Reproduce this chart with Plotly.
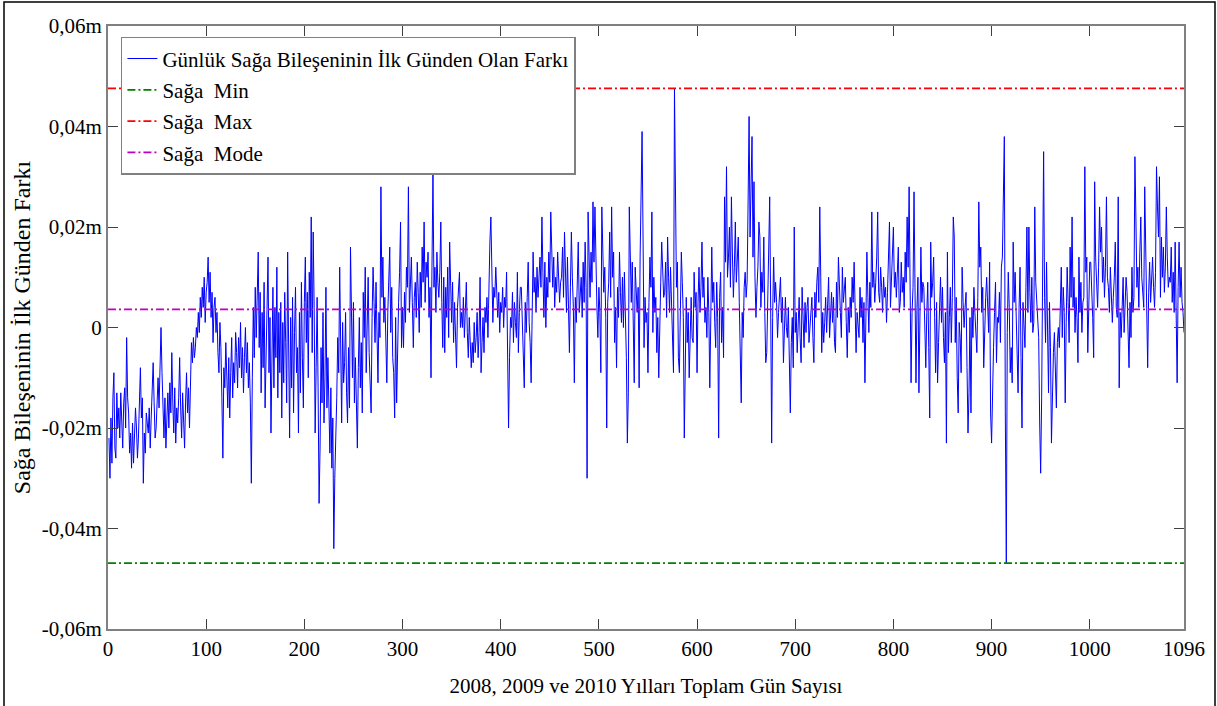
import numpy as np
import plotly.graph_objects as go

# Daily difference of the "Sağa" component from the first day, in millimetres
saga_diff_mm = [
    -22,-30,-18,-27,-14,-9,-24,-26,-13,-20,
    -16,-22,-13,-19,-24,-15,-12,-20,-2,-14,
    -17,-25,-21,-28,-19,-27,-23,-16,-20,-26,
    -22,-12,-8,-18,-14,-31,-21,-25,-17,-19,
    -21,-16,-24,-18,-13,-7,-15,-22,-20,-12,
    -10,-16,-5,0,-9,-19,-22,-14,-24,-18,
    -13,-20,-11,-17,-5,-15,-21,-12,-23,-16,
    -19,-14,-6,-16,-22,-13,-18,-24,-15,-9,
    -17,-12,-20,-8,-3,-7,-2,-6,-4,0,
    -2,3,-1,6,2,8,4,10,1,7,
    9,14,5,11,2,7,-3,4,6,-1,
    3,-5,-9,1,-4,-14,-26,-8,-12,-3,
    -10,-16,-6,-18,-9,-2,-14,-7,-11,-1,
    -5,-12,-2,-8,1,-10,-4,-13,-6,0,
    -9,-3,-12,-7,-15,-31,-10,4,-6,8,
    -2,10,15,-4,7,-13,3,-8,9,-16,
    -5,6,14,-9,2,-21,-3,8,-12,4,
    -6,12,-14,3,-9,5,-18,1,-11,7,
    -3,-15,15,-7,-22,2,-12,6,-17,-1,
    8,-9,-4,-21,3,-13,9,-6,-16,5,
    14,-3,7,-10,11,2,22,-5,19,4,
    -21,-8,6,-12,-35,-24,-4,-15,3,-19,
    -10,8,-16,-6,-20,-25,-12,-28,-18,-44,
    -30,-24,-14,-2,-9,12,-5,-19,1,-11,
    -7,3,-13,-19,-4,-16,16,-1,-10,5,
    -15,-6,-20,-24,-8,2,-12,-3,-17,7,
    -2,12,-9,4,10,-5,-11,-17,2,12,
    5,-3,9,-7,-11,3,-2,28,6,14,
    1,6,-4,-11,3,9,16,-1,8,-6,
    -9,-18,2,-15,-3,5,11,21,-4,4,
    -4,7,1,12,8,28,3,10,14,5,
    -4,6,9,2,13,7,-1,11,4,16,
    9,21,5,13,10,15,2,8,-10,12,
    31,8,12,3,15,9,6,11,21,5,
    -4,10,-5,8,2,12,-2,17,6,1,
    9,-3,5,-1,-8,4,7,11,0,3,
    0,6,-2,4,9,-1,-6,2,-4,-8,
    -3,-7,1,-5,-2,3,-6,-1,10,-9,
    -3,2,-5,4,1,6,-2,9,17,22,
    13,1,8,6,12,4,2,7,-1,5,
    3,8,0,6,4,11,-14,-20,-6,2,
    0,7,-3,5,1,-2,11,-5,3,8,
    8,2,-4,-12,5,-1,6,13,1,-3,
    -11,4,15,7,10,3,12,6,9,14,
    8,22,11,2,13,0,10,6,15,9,
    23,12,8,14,4,10,7,15,11,5,
    9,10,16,6,19,12,3,14,7,-5,
    8,19,10,4,-11,6,1,12,17,3,
    7,10,2,13,5,17,8,-30,23,11,
    6,15,9,25,13,24,10,4,-2,8,
    3,-9,24,14,7,12,2,-20,5,9,
    19,6,24,10,15,-3,4,-8,8,2,
    15,7,1,10,0,11,4,-6,-23,-13,
    24,9,5,13,0,-11,12,6,3,8,
    -12,14,29,39,18,-4,6,1,3,-9,
    5,14,8,23,-1,10,3,6,-5,2,
    -10,4,9,17,11,6,7,13,2,18,
    10,3,12,6,0,-9,47.6,24,8,13,
    -6,-9,4,15,9,2,-22,-1,6,-3,
    3,-10,1,6,-2,-3,11,4,7,-9,
    5,12,3,8,17,6,10,1,4,-2,
    10,3,-12,7,16,5,9,1,-4,9,
    2,-22,6,11,-3,4,-6,26,13,32,
    10,14,20,8,26,15,6,12,21,9,
    13,18,5,-4,-15,3,-2,8,11,6,
    9,25,42,18,29,38,14,29,10,2,
    8,12,21,18,4,11,7,18,3,-7,
    -5,6,12,26,4,-23,2,14,5,9,
    5,-2,3,7,10,1,6,-7,2,6,
    0,-2,4,-6,-17,-3,2,-8,20,-1,
    3,-5,1,6,-2,-7,8,3,-4,5,
    -1,4,6,-3,1,3,6,-2,-7,7,
    2,9,12,5,24,10,-5,3,-3,1,
    6,-1,4,10,-2,3,7,1,6,-3,
    -5,9,2,14,6,3,-2,12,5,8,
    10,1,-6,4,-1,6,2,10,5,13,
    4,-5,3,1,-2,8,2,6,-3,5,
    -11,2,15,6,-1,9,4,23,8,11,
    5,9,14,23,7,5,12,8,3,10,
    6,8,1,7,14,21,4,9,12,20,
    8,11,6,10,16,3,5,13,7,10,
    4,15,9,22,12,28,6,-11,3,8,
    27,12,-11,4,10,-13,2,16,5,9,
    8,1,-8,3,9,-4,-18,17,6,9,
    14,2,-9,5,-11,-3,4,10,1,8,
    -2,-7,3,-23,15,-5,2,8,-3,6,
    22,18,-3,6,-10,-17,1,-2,-9,12,
    5,0,4,7,-8,-21,-13,2,-17,4,
    -2,8,3,-1,-5,6,25,12,16,3,
    8,-8,2,6,10,4,-1,13,-17,-23,
    -10,-4,3,9,-7,2,1,7,-3,12,
    14,27,38,-17,-47,-1,11,4,-9,-4,
    -11,17,5,11,2,-5,-13,4,12,-6,
    -20,5,-2,-4,8,20,3,20,7,1,
    10,-1,1,24,9,6,3,-2,-19,-29,
    -14,24,35,6,-3,13,2,-13,5,-4,
    -23,-12,-5,-1,-9,-16,-3,0,-4,6,
    12,-2,8,3,-15,1,12,5,-3,16,
    6,22,4,10,-1,6,2,-7,14,3,
    9,-1,5,6,32,11,14,-5,8,13,
    13,8,2,-6,29,14,9,4,12,24,
    15,20,9,14,6,12,26,10,8,3,
    12,5,1,6,10,17,4,2,26,-12,
    3,-2,6,10,-1,4,10,7,1,-8,
    5,-2,12,3,6,34,22,8,12,4,
    15,22,10,6,4,28,13,3,-8,7,
    13,5,9,14,8,4,11,32,24,18,
    30,6,18,10,16,7,12,24,14,8,
    10,9,16,5,11,3,17,-1,-11,8,
    17,6,12,5,3,-1,
]

saga_min = -0.0469
saga_max = 0.0476
saga_mode = 0.0036

x_tickvals = [0, 100, 200, 300, 400, 500, 600, 700, 800, 900, 1000, 1096]
y_tickvals = [-0.06, -0.04, -0.02, 0, 0.02, 0.04, 0.06]
y_ticktext = ["-0,06m", "-0,04m", "-0,02m", "0", "0,02m", "0,04m", "0,06m"]

legend_names = [
    "Günlük Sağa Bileşeninin İlk Günden Olan Farkı",
    "Sağa\u00a0 Min",
    "Sağa\u00a0 Max",
    "Sağa\u00a0 Mode",
]

y = np.array(saga_diff_mm, dtype=float) * 1e-3
days = np.arange(1, len(y) + 1)
x_span = [0, 1096]

dash = "8px,3px,2px,3px"
fig = go.Figure()
fig.add_trace(go.Scatter(x=days, y=y, mode="lines", name=legend_names[0],
                         legendgroup="a", line=dict(color="#0000ff", width=1)))
fig.add_trace(go.Scatter(x=x_span, y=[saga_min, saga_min], mode="lines", name=legend_names[1],
                         legendgroup="b", line=dict(color="#008000", width=1.8, dash=dash)))
fig.add_trace(go.Scatter(x=x_span, y=[saga_max, saga_max], mode="lines", name=legend_names[2],
                         legendgroup="c", line=dict(color="#ff0000", width=1.8, dash=dash)))
fig.add_trace(go.Scatter(x=x_span, y=[saga_mode, saga_mode], mode="lines", name=legend_names[3],
                         legendgroup="d", line=dict(color="#c000c0", width=1.8, dash=dash)))

axis_common = dict(showline=True, linecolor="#808080", linewidth=2, mirror="ticks",
                   ticks="inside", ticklen=10, tickcolor="#404040", tickwidth=1,
                   showgrid=False, zeroline=False, automargin=False)

fig.update_layout(
    width=1217, height=706,
    margin=dict(l=108, r=33, t=26, b=77),
    paper_bgcolor="white", plot_bgcolor="white",
    font=dict(family="Liberation Serif, Times New Roman, serif", size=21, color="black"),
    showlegend=True,
    legend=dict(x=0.012, y=0.982, xanchor="left", yanchor="top", bgcolor="white",
                bordercolor="#808080", borderwidth=1.5, tracegroupgap=1,
                font=dict(size=21)),
    xaxis=dict(range=[0, 1096], tickvals=x_tickvals, ticktext=[str(v) for v in x_tickvals],
               title=dict(text="2008, 2009 ve 2010 Yılları Toplam Gün Sayısı", standoff=18,
                          font=dict(size=21)),
               **axis_common),
    yaxis=dict(range=[-0.06, 0.06], tickvals=y_tickvals, ticktext=y_ticktext,
               title=dict(text="Sağa Bileşeninin İlk Günden Farkı", standoff=4,
                          font=dict(size=24)),
               **axis_common),
    shapes=[dict(type="rect", xref="paper", yref="paper",
                 x0=(4 - 108) / 1076, x1=(1215 - 108) / 1076,
                 y0=(629 - 712) / 603, y1=(629 - 2) / 603,
                 line=dict(color="black", width=1.5), fillcolor="rgba(0,0,0,0)", layer="below")],
)

fig.write_html("out.html", config={"displayModeBar": False},
               post_script="document.body.style.margin='0';")
